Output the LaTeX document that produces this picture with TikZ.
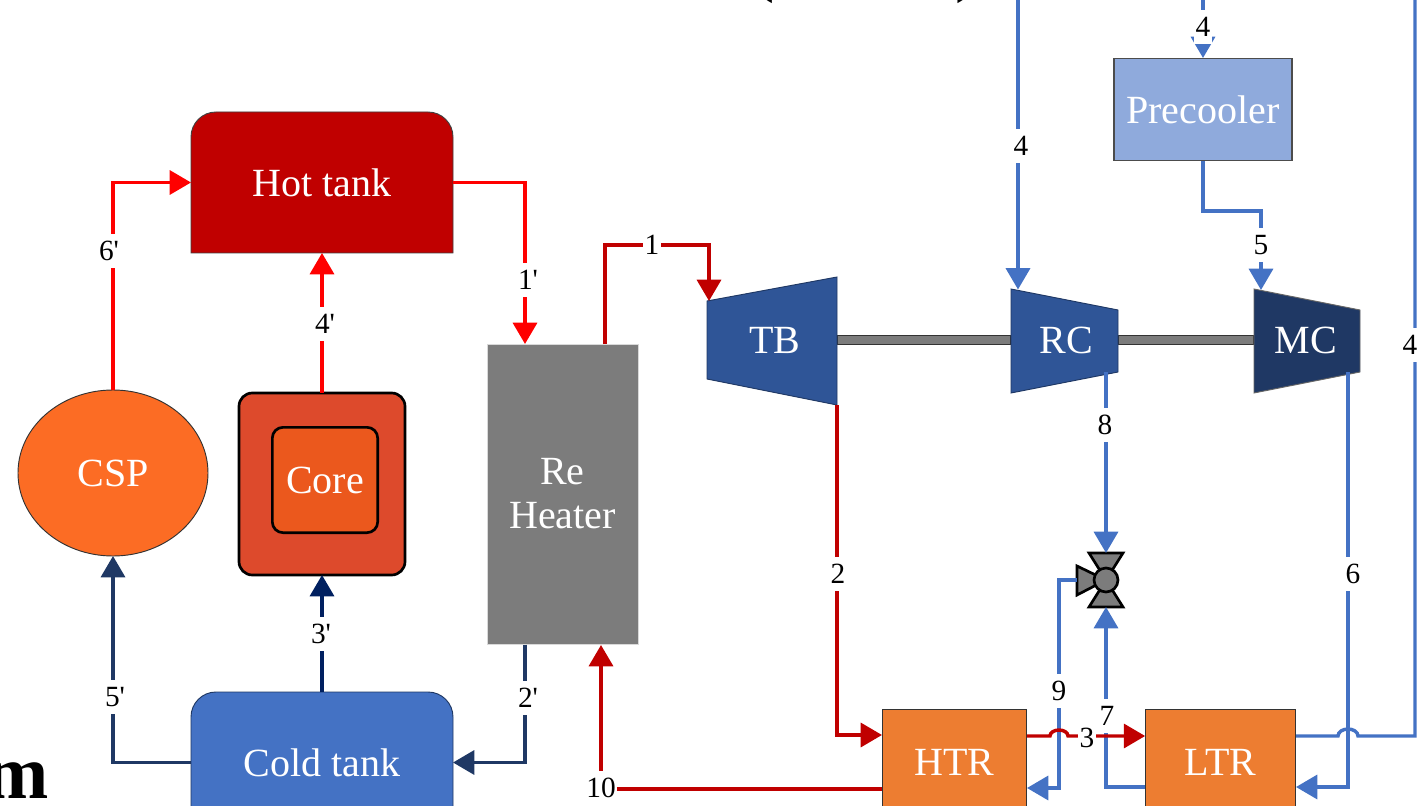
\documentclass[tikz,border=0pt]{standalone}
\usepackage{fontspec}
\setmainfont{Liberation Serif}
\usepackage{xcolor}
\usetikzlibrary{arrows.meta,shapes.geometric}
\definecolor{hotred}{HTML}{C00000}
\definecolor{puremark}{HTML}{FF0000}
\definecolor{coldblue}{HTML}{4472C4}
\definecolor{darkblue}{HTML}{1F3864}
\definecolor{navyblue}{HTML}{002060}
\definecolor{turbblue}{HTML}{2F5597}
\definecolor{coolblue}{HTML}{8FAADC}
\definecolor{hxorange}{HTML}{ED7D31}
\definecolor{csporange}{HTML}{FC6C24}
\definecolor{corered}{HTML}{DD4A2C}
\definecolor{coreorange}{HTML}{EB581D}
\definecolor{shaftgray}{HTML}{7C7C7C}
\tikzset{comp/.style={inner sep=0pt,outer sep=0pt,text=white,font=\fontsize{30}{33}\selectfont,align=center},
	numlbl/.style={fill=white,inner xsep=1pt,inner ysep=5.5pt,outer sep=0pt,font=\fontsize{22}{24}\selectfont},
	stream/.style={line width=2.6pt,->}}

\begin{document}
\begin{tikzpicture}[x=0.75pt,y=-0.75pt,>={Triangle[length=16pt,width=18pt]}]
		\clip (0,0) rectangle (1418,806);
		% shafts
		\begin{scope}[every path/.style={draw=black!80,line width=0.8pt,fill=shaftgray}]
			\path (837,335.5) rectangle (1011,344.5);
			\path (1118,335.5) rectangle (1254,344.5);
		\end{scope}
		% tanks and machines
		\draw[fill=hotred,draw=black!75,line width=0.7pt] (191,253) -- (191,137) arc[start angle=180,end angle=270,radius=25] -- (428,112) arc[start angle=270,end angle=360,radius=25] -- (453,253) -- cycle;
		\draw[fill=coldblue,draw=darkblue,line width=0.7pt] (191,833) -- (191,717) arc[start angle=180,end angle=270,radius=25] -- (428,692) arc[start angle=270,end angle=360,radius=25] -- (453,833) -- cycle;
		\draw[fill=turbblue,draw=darkblue,line width=0.7pt] (707,301) -- (837,277) -- (837,405) -- (707,379) -- cycle;
		\draw[fill=turbblue,draw=darkblue,line width=0.7pt] (1011,289) -- (1118,310) -- (1118,372) -- (1011,393) -- cycle;
		\draw[fill=darkblue,draw=black!60,line width=0.7pt] (1254,289) -- (1360,310) -- (1360,372) -- (1254,393) -- cycle;
		\begin{scope}[every node/.style={comp}]
			\node (HT) at (322,182.5) [minimum width=196.5pt,minimum height=105.75pt] {Hot tank};
			\node (CT) at (322,762.5) [minimum width=196.5pt,minimum height=105.75pt] {Cold tank};
			\node (CSP) at (113,473) [ellipse,draw=black!80,line width=0.7pt,fill=csporange,minimum width=142.5pt,minimum height=124.5pt] {CSP};
			\node (CO) at (322,484) [draw=black,line width=2pt,fill=corered,rounded corners=10pt,minimum width=124.5pt,minimum height=136.5pt] {};
			\node (CI) at (325,480) [draw=black,line width=2pt,fill=coreorange,rounded corners=8pt,minimum width=79pt,minimum height=79pt] {Core};
			\node (RH) at (562.5,494) [draw=black!15,line width=0.5pt,fill=shaftgray,minimum width=113pt,minimum height=225pt] {Re\\Heater};
			\node (TB) at (775,340) {TB};
			\node (RC) at (1066,340) {RC};
			\node (MC) at (1306,340) {MC};
			\node (PC) at (1203,109.5) [draw=black!70,line width=0.8pt,fill=coolblue,minimum width=133.5pt,minimum height=77pt] {Precooler};
			\node (HTR) at (954.5,762) [draw=black!80,line width=0.7pt,fill=hxorange,minimum width=108.5pt,minimum height=79.5pt] {HTR};
			\node (LTR) at (1220.5,762) [draw=black!80,line width=0.7pt,fill=hxorange,minimum width=113pt,minimum height=79.5pt] {LTR};
		\end{scope}
		% valve
		\begin{scope}[every path/.style={draw=black,line width=2pt,fill=shaftgray}]
			\path (1106,580) -- (1089,553) -- (1123,553) -- cycle;
			\path (1106,580) -- (1089,607) -- (1123,607) -- cycle;
			\path (1106,580) -- (1077,566) -- (1077,595) -- cycle;
			\path (1106,580) circle [radius=12];
		\end{scope}
		\coordinate (VT) at (1106,553);
		\coordinate (VB) at (1106,607);
		\coordinate (VL) at (1077,580);
		% stream ends
		\coordinate (RHout) at (605,344);
		\coordinate (RHin) at (601,645);
		\coordinate (RHcold) at (525,644.5);
		\coordinate (RHhot) at (525,344);
		\coordinate (TBin) at (709,301);
		\coordinate (TBout) at (837,405);
		\coordinate (RCin) at (1018,289.5);
		\coordinate (RCout) at (1106,372);
		\coordinate (MCin) at (1261,290);
		\coordinate (MCout) at (1348,372);
		\coordinate (PCin) at (1203,58);
		\coordinate (PCout) at (1203,161);
		\coordinate (TopA) at (1018,-5);
		\coordinate (TopB) at (1203,-5);
		\coordinate (TopC) at (1415,-5);
		\coordinate (Bend5) at (1232,211);
		\coordinate (Bend1) at (652,245);
		\coordinate (HTRhot) at (882,789);
		\coordinate (HTRcold) at (1027,788);
		\coordinate (LTRcold) at (1145,787);
		\coordinate (LTRin) at (1296,787);
		\coordinate (LTRout) at (1296,736);
		\coordinate (Bend10) at (601,789);
		% salt loop
		\begin{scope}[every path/.style={stream,draw=puremark}]
			\path (CSP.north) |- (HT.west);
			\path (CO.north) -- (HT.south);
			\path (HT.east) -| (RHhot);
		\end{scope}
		\draw[stream,draw=navyblue] (CT.north) -- (CO.south);
		\begin{scope}[every path/.style={stream,draw=darkblue}]
			\path (CT.west) -| (CSP.south);
			\path (RHcold) |- (CT.east);
		\end{scope}
		% hot side
		\begin{scope}[every path/.style={stream,draw=hotred}]
			\path (RHout) |- (Bend1) -| (TBin);
			\path (TBout) |- (882,735);
			\path (HTRhot) -- (Bend10) -- (RHin);
		\end{scope}
		% cold side
		\begin{scope}[every path/.style={stream,draw=coldblue}]
			\path (TopA) -- (RCin);
			\path (TopB) -- (PCin);
			\path (PCout) |- (Bend5) -| (MCin);
			\path (RCout) -- (VT);
			\path (LTRcold) -| (VB);
			\path (VL) -| (1059,700) |- (HTRcold);
			\path (MCout) |- (LTRin);
		\end{scope}
		\draw[line width=2.6pt,draw=coldblue] (LTRout) -- (1338,736) arc[start angle=180,end angle=360,x radius=10,y radius=7] -- (1415,736) -- (TopC);
		\draw[stream,draw=hotred] (HTR.east |- LTRout) -- (1050,736) arc[start angle=180,end angle=360,x radius=9,y radius=6] -- (LTR.west |- LTRout);
		% stream numbers
		\begin{scope}[every node/.style={numlbl}]
			\node (n1) at (652,245) {1};
			\node (n1p) at (528,280) {1\textquotesingle};
			\node (n2) at (838,574) {2};
			\node (n2p) at (528,698) {2\textquotesingle};
			\node (n3) at (1087,738) {3};
			\node (n3p) at (321,634) {3\textquotesingle};
			\node (n4a) at (1021,146) {4};
			\node (n4b) at (1203,27) {4};
			\node (n4c) at (1410,345) {4};
			\node (n4p) at (325,324) {4\textquotesingle};
			\node (n5) at (1261,245) {5};
			\node (n5p) at (115,697) {5\textquotesingle};
			\node (n6) at (1353,574) {6};
			\node (n6p) at (109,251) {6\textquotesingle};
			\node (n7) at (1107,716) {7};
			\node (n8) at (1105,425) {8};
			\node (n9) at (1059,691) {9};
			\node (n10) at (601,788) {10};
		\end{scope}
		% heading fragments
		\begin{scope}[every node/.style={inner sep=0pt,font=\fontsize{57}{60}\selectfont\bfseries,anchor=base}]
			\node (hm) at (17,798) {m};
			\node (hl) at (762,-12) {(};
			\node (hr) at (968,-12) {)};
		\end{scope}
	\end{tikzpicture}
\end{document}
